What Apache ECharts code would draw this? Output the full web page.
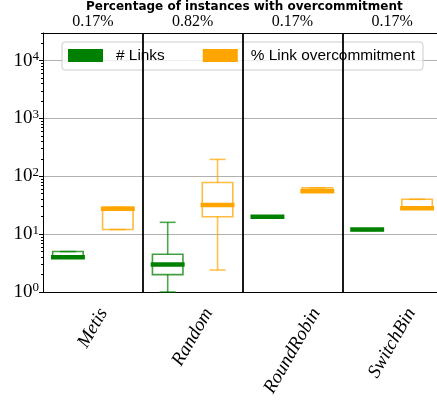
<!DOCTYPE html>
<html>
<head>
<meta charset="utf-8">
<script src="https://cdn.jsdelivr.net/npm/echarts@6/dist/echarts.min.js"></script>
<style>
  html, body { margin: 0; padding: 0; background: #fff; }
  #chart { width: 437px; height: 400px; }
</style>
</head>
<body>
<div id="chart"></div>
<script>
const categories = ["Metis", "Random", "RoundRobin", "SwitchBin"];
const overcommitPct = ["0.17%", "0.82%", "0.17%", "0.17%"];
const yTicks = [1, 10, 100, 1000, 10000];

// [min, q1, median, q3, max]
const linksBoxes = [
  [4, 4, 4, 5, 5],
  [1, 2, 3, 4.5, 16],
  [20, 20, 20, 20, 20],
  [11.6, 11.6, 12, 12, 12],
];
const overcommitBoxes = [
  [12, 12, 27.5, 29, 29],
  [2.4, 20, 32, 78, 196],
  [55, 55, 55, 63, 63],
  [28, 28, 28, 40, 40],
];

const GREEN = "#008000";
const ORANGE = "#ffa500";
const SERIF = '"Liberation Serif", "DejaVu Serif", serif';
const Y_MAX = 30000;
const LABEL_SIZE = 19;

// minor ticks of the log axis (2..9 x 10^k)
const yMinorTicks = [];
for (let k = 0; k < 5; k++) {
  for (let m = 2; m < 10; m++) {
    if (m * 10 ** k <= Y_MAX) yMinorTicks.push(m * 10 ** k);
  }
}

// rotated x labels are centred under the tick, like matplotlib ha="center"
const ctx = document.createElement("canvas").getContext("2d");
ctx.font = `italic ${LABEL_SIZE}px "Liberation Serif"`;
const xLabelRich = {};
categories.forEach((name, i) => {
  const w = ctx.measureText(name).width;
  const s = 3 + (w * 0.866 + LABEL_SIZE * 0.5) / 2;
  xLabelRich["c" + i] = {
    fontFamily: SERIF,
    fontStyle: "italic",
    fontSize: LABEL_SIZE,
    color: "#000",
    padding: [s, 1.732 * s, 0, 0],
  };
});

function boxRenderer(shift) {
  return function (params, api) {
    const band = api.size([1, 0])[0];
    const cat = api.value(0);
    const x = api.coord([cat, 1])[0] + shift * band;
    const y = (k) => api.coord([cat, api.value(k)])[1];
    const color = api.visual("color");
    const half = band * 0.153;
    const capHalf = band * 0.08;
    const medHalf = band * 0.17;
    const faint = { stroke: color, lineWidth: 1.6, opacity: 0.7 };
    return {
      type: "group",
      children: [
        { type: "line", shape: { x1: x, y1: y(4), x2: x, y2: y(5) }, style: faint },
        { type: "line", shape: { x1: x, y1: y(2), x2: x, y2: y(1) }, style: faint },
        { type: "line", shape: { x1: x - capHalf, y1: y(5), x2: x + capHalf, y2: y(5) }, style: faint },
        { type: "line", shape: { x1: x - capHalf, y1: y(1), x2: x + capHalf, y2: y(1) }, style: faint },
        {
          type: "rect",
          shape: { x: x - half, y: y(4), width: half * 2, height: y(2) - y(4) },
          style: { fill: "none", stroke: color, lineWidth: 1.6, opacity: 0.75 },
        },
        {
          type: "line",
          shape: { x1: x - medHalf, y1: y(3), x2: x + medHalf, y2: y(3) },
          style: { stroke: color, lineWidth: 4.5 },
        },
      ],
    };
  };
}

const chart = echarts.init(document.getElementById("chart"), null, { renderer: "canvas" });

chart.setOption({
  animation: false,
  backgroundColor: "#fff",
  title: {
    text: "Percentage of instances with overcommitment",
    left: 86,
    top: 1,
    padding: 0,
    textStyle: { fontFamily: "DejaVu Sans", fontWeight: "bold", fontSize: 12, color: "#000" },
  },
  legend: {
    data: ["# Links", "% Link overcommitment"],
    left: 62,
    top: 42,
    z: 1,
    icon: "rect",
    itemWidth: 35,
    itemHeight: 13,
    itemGap: 38,
    padding: [6, 8, 7, 6],
    borderColor: "#cccccc",
    borderWidth: 1,
    borderRadius: 3,
    backgroundColor: "rgba(255,255,255,0.8)",
    textStyle: { fontFamily: '"Liberation Sans", sans-serif', fontSize: 15.4, color: "#000", padding: [0, 0, 0, 8] },
  },
  grid: { left: 43, right: -5, top: 33, bottom: 108, outerBoundsMode: "none" },
  xAxis: [
    {
      type: "category",
      data: categories,
      position: "bottom",
      z: 2,
      axisLine: { lineStyle: { color: "#000", width: 1 } },
      axisTick: { alignWithLabel: true, length: 4, lineStyle: { color: "#000" } },
      axisLabel: {
        interval: 0,
        rotate: 60,
        align: "center",
        verticalAlign: "middle",
        margin: 10,
        formatter: (v, i) => `{c${i}|${v}}`,
        rich: xLabelRich,
      },
      splitLine: { show: true, interval: (i) => i > 0, lineStyle: { color: "#000", width: 1.8 } },
    },
    {
      type: "category",
      data: overcommitPct,
      position: "top",
      z: 2,
      axisLine: { lineStyle: { color: "#000", width: 1 } },
      axisTick: { show: false },
      axisLabel: { fontFamily: SERIF, fontSize: 16, color: "#000", margin: 3 },
      splitLine: { show: false },
    },
  ],
  yAxis: [
    {
      type: "log",
      logBase: 10,
      min: 1,
      max: Y_MAX,
      position: "left",
      z: 0,
      axisLine: { show: true, lineStyle: { color: "#000", width: 1 } },
      axisTick: { show: true, length: 4, customValues: yTicks, lineStyle: { color: "#000" } },
      axisLabel: {
        customValues: yTicks,
        margin: 4,
        formatter: (v) => `{b|10}{s|${Math.round(Math.log10(v))}}`,
        rich: {
          b: { fontFamily: SERIF, fontSize: 19, color: "#000" },
          s: { fontFamily: SERIF, fontSize: 13, color: "#000", padding: [0, 0, 8, 0] },
        },
      },
      splitLine: { show: true, lineStyle: { color: "#b0b0b0", width: 1 } },
    },
    {
      type: "log",
      logBase: 10,
      min: 1,
      max: Y_MAX,
      position: "left",
      z: 2,
      axisLine: { show: false },
      axisTick: { show: true, length: 2, customValues: yMinorTicks, lineStyle: { color: "#000" } },
      axisLabel: { show: false },
      splitLine: { show: false },
    },
  ],
  series: [
    {
      name: "# Links",
      type: "custom",
      renderItem: boxRenderer(-0.25),
      itemStyle: { color: GREEN },
      encode: { x: 0, y: [1, 2, 3, 4, 5] },
      data: linksBoxes.map((b, i) => [i, ...b]),
      z: 3,
    },
    {
      name: "% Link overcommitment",
      type: "custom",
      renderItem: boxRenderer(0.25),
      itemStyle: { color: ORANGE },
      encode: { x: 0, y: [1, 2, 3, 4, 5] },
      data: overcommitBoxes.map((b, i) => [i, ...b]),
      z: 3,
    },
  ],
});
</script>
</body>
</html>
